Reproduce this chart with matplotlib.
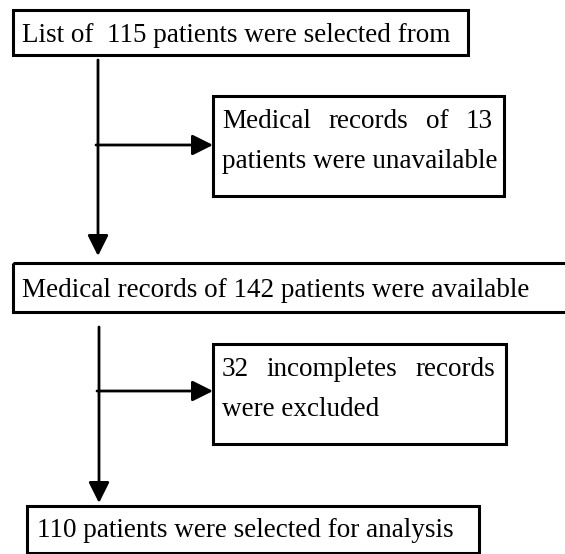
import matplotlib.pyplot as plt
from matplotlib.patches import Rectangle

# flowchart texts
main_texts = [
    'List of  115 patients were selected from',
    'Medical records of 142 patients were available',
    '110 patients were selected for analysis',
]
side_texts = [
    ['Medical records of 13', 'patients were unavailable'],
    ['32 incompletes records', 'were excluded'],
]

W, H = 565, 554
FS = 19.5
FONT = 'Liberation Serif'

fig = plt.figure(figsize=(W / 100, H / 100), dpi=100)
ax = fig.add_axes([0, 0, 1, 1])
ax.set_xlim(0, W)
ax.set_ylim(H, 0)
ax.axis('off')

# main boxes: (x0, y0, x1, y1), text x, baseline
main_boxes = [(13, 10, 468, 55, 22, 42),
              (13, 263, 575, 312, 22, 297),
              (27, 506, 479, 553, 37, 537)]
for (x0, y0, x1, y1, tx, ty), t in zip(main_boxes, main_texts):
    ax.add_patch(Rectangle((x0, y0), x1 - x0, y1 - y0, fill=False, ec='black', lw=2.2))
    ax.text(tx, ty, t, fontsize=FS, family=FONT, va='baseline', ha='left')

# side boxes with justified first line
side_boxes = [(213, 96, 504, 196), (213, 344, 506, 444)]
fig.canvas.draw()
renderer = fig.canvas.get_renderer()
inv = ax.transData.inverted()
for (x0, y0, x1, y1), lines in zip(side_boxes, side_texts):
    ax.add_patch(Rectangle((x0, y0), x1 - x0, y1 - y0, fill=False, ec='black', lw=2.2))
    lx, rx = x0 + 9, x1 - 11
    words = lines[0].split()
    base = y0 + 32
    objs = [ax.text(0, base, w, fontsize=FS, family=FONT, va='baseline') for w in words]
    widths = []
    for o in objs:
        bb = o.get_window_extent(renderer)
        p0 = inv.transform((bb.x0, bb.y0))
        p1 = inv.transform((bb.x1, bb.y0))
        widths.append(p1[0] - p0[0])
    gap = (rx - lx - sum(widths)) / (len(words) - 1)
    x = lx
    for o, w in zip(objs, widths):
        o.set_x(x)
        x += w + gap
    ax.text(lx, base + 40, lines[1], fontsize=FS, family=FONT, va='baseline')

# arrows
arrows = [((98, 60), (98, 256)), ((96, 145), (213, 145)),
          ((99, 327), (99, 503)), ((97, 391), (213, 391))]
for start, end in arrows:
    ax.annotate('', xy=end, xytext=start,
                arrowprops=dict(arrowstyle='-|>,head_length=0.9,head_width=0.45',
                                color='black', lw=2, shrinkA=0, shrinkB=0,
                                mutation_scale=14))

fig.savefig('out.png', dpi=100)
